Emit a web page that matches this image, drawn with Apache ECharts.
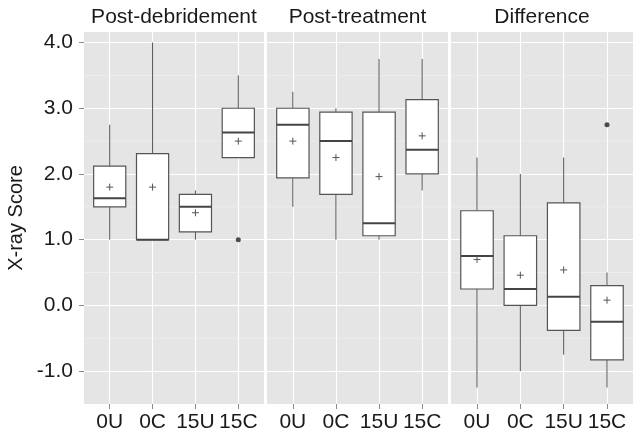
<!DOCTYPE html>
<html>
<head>
<meta charset="utf-8">
<script src="https://cdn.jsdelivr.net/npm/echarts@6/dist/echarts.min.js"></script>
<style>
html,body{margin:0;padding:0;background:#fff;}
#chart{width:642px;height:441px;}
</style>
</head>
<body>
<div id="chart"></div>
<script>
// ---- data ----
const categories = ['0U', '0C', '15U', '15C'];
const panelTitles = ['Post-debridement', 'Post-treatment', 'Difference'];
const yTickValues = [-1, 0, 1, 2, 3, 4];
const yMinorValues = [-0.5, 0.5, 1.5, 2.5, 3.5];
// box stats per category: [min, Q1, median, Q3, max]
const postDebridementBoxes = [
  [1.0, 1.5, 1.63, 2.12, 2.75],
  [1.0, 1.0, 1.0, 2.31, 4.0],
  [1.0, 1.12, 1.5, 1.69, 1.75],
  [2.25, 2.25, 2.63, 3.0, 3.5]
];
const postTreatmentBoxes = [
  [1.5, 1.94, 2.75, 3.0, 3.25],
  [1.0, 1.69, 2.5, 2.94, 3.0],
  [1.0, 1.06, 1.25, 2.94, 3.75],
  [1.75, 2.0, 2.37, 3.13, 3.75]
];
const differenceBoxes = [
  [-1.25, 0.25, 0.75, 1.44, 2.25],
  [-1.0, 0.0, 0.25, 1.06, 2.0],
  [-0.75, -0.38, 0.13, 1.56, 2.25],
  [-1.25, -0.83, -0.25, 0.3, 0.5]
];
const postDebridementMeans = [1.8, 1.8, 1.41, 2.5];
const postTreatmentMeans = [2.5, 2.25, 1.96, 2.58];
const differenceMeans = [0.7, 0.46, 0.54, 0.08];
// outliers: [category label, value]
const postDebridementOutliers = [['15C', 1.0]];
const postTreatmentOutliers = [];
const differenceOutliers = [['15C', 2.75]];

const panelBoxes = [postDebridementBoxes, postTreatmentBoxes, differenceBoxes];
const panelMeans = [postDebridementMeans, postTreatmentMeans, differenceMeans];
const panelOutliers = [postDebridementOutliers, postTreatmentOutliers, differenceOutliers];

// ---- layout ----
const FONT = 'Liberation Sans, Arial, Helvetica, sans-serif';
const gridRects = [
  {left: 84, width: 180},
  {left: 267, width: 181},
  {left: 451, width: 182}
];
const gridTop = 32, gridBottom = 37;
const xPositions = categories.map((c, i) => i + 1);

const grids = [], xAxes = [], yAxes = [], series = [], graphics = [];
gridRects.forEach((g, p) => {
  grids.push({left: g.left, width: g.width, top: gridTop, bottom: gridBottom,
    show: true, backgroundColor: '#e5e5e5', borderWidth: 0, containLabel: false});
  xAxes.push({
    gridIndex: p, type: 'value', min: 0.4, max: 4.6, position: 'bottom',
    axisLine: {show: false, onZero: false},
    axisTick: {show: true, customValues: xPositions, length: 5, lineStyle: {color: '#8a8a8a', width: 1}},
    axisLabel: {customValues: xPositions, margin: 8, fontSize: 21, color: '#1a1a1a', fontFamily: FONT,
      formatter: v => categories[Math.round(v) - 1] || ''},
    splitLine: {show: true, lineStyle: {color: '#ffffff', width: 1.2}}
  });
  yAxes.push({
    gridIndex: p, type: 'value', min: -1.5, max: 4.16, interval: 0.5, position: 'left',
    name: p === 0 ? 'X-ray Score' : '',
    nameLocation: 'middle', nameGap: 58, nameRotate: 90,
    nameTextStyle: {fontSize: 20, color: '#1a1a1a', fontFamily: FONT},
    axisLine: {show: false, onZero: false},
    axisTick: {show: p === 0, customValues: yTickValues, length: 5, lineStyle: {color: '#8a8a8a', width: 1}},
    axisLabel: {show: p === 0, customValues: yTickValues, margin: 11, fontSize: 21, color: '#1a1a1a', fontFamily: FONT,
      formatter: v => v.toFixed(1)},
    splitLine: {show: true, lineStyle: {color: '#ffffff', width: 1.2}}
  });
  // minor horizontal grid lines
  series.push({
    type: 'custom', xAxisIndex: p, yAxisIndex: p, z: 1, silent: true, animation: false,
    encode: {y: 0},
    data: yMinorValues.map(v => [v]),
    renderItem: function (params, api) {
      const cs = params.coordSys;
      const y = api.coord([1, api.value(0)])[1];
      return {type: 'line', shape: {x1: cs.x, y1: y, x2: cs.x + cs.width, y2: y},
        style: {stroke: '#f0f0f0', lineWidth: 0.8}};
    }
  });
  // boxes
  const boxData = categories.map((c, i) => [i + 1].concat(panelBoxes[p][i], [panelMeans[p][i]]));
  series.push({
    type: 'custom', xAxisIndex: p, yAxisIndex: p, z: 3, animation: false,
    encode: {x: 0, y: [1, 5]},
    data: boxData,
    renderItem: function (params, api) {
      const x = api.value(0);
      const mn = api.coord([x, api.value(1)]);
      const q1 = api.coord([x, api.value(2)]);
      const md = api.coord([x, api.value(3)]);
      const q3 = api.coord([x, api.value(4)]);
      const mx = api.coord([x, api.value(5)]);
      const me = api.coord([x, api.value(6)]);
      const hw = api.size([0.75, 0])[0] / 2;
      const stroke = '#555555';
      const cx = mn[0];
      const ps = 3.5;
      return {
        type: 'group',
        children: [
          {type: 'line', shape: {x1: cx, y1: q3[1], x2: cx, y2: mx[1]}, style: {stroke: stroke, lineWidth: 1}},
          {type: 'line', shape: {x1: cx, y1: q1[1], x2: cx, y2: mn[1]}, style: {stroke: stroke, lineWidth: 1}},
          {type: 'rect', shape: {x: cx - hw, y: q3[1], width: hw * 2, height: q1[1] - q3[1]},
            style: {fill: '#ffffff', stroke: stroke, lineWidth: 1.2}},
          {type: 'line', shape: {x1: cx - hw, y1: md[1], x2: cx + hw, y2: md[1]}, style: {stroke: '#444444', lineWidth: 2}},
          {type: 'line', shape: {x1: cx - ps, y1: me[1], x2: cx + ps, y2: me[1]}, style: {stroke: '#555', lineWidth: 1}},
          {type: 'line', shape: {x1: cx, y1: me[1] - ps, x2: cx, y2: me[1] + ps}, style: {stroke: '#555', lineWidth: 1}}
        ]
      };
    }
  });
  // outliers
  series.push({
    type: 'scatter', xAxisIndex: p, yAxisIndex: p, z: 4, animation: false,
    symbol: 'circle', symbolSize: 5,
    itemStyle: {color: '#222'},
    data: panelOutliers[p].map(o => [categories.indexOf(o[0]) + 1, o[1]])
  });
  graphics.push({
    type: 'text', x: g.left + g.width / 2, y: 17,
    style: {text: panelTitles[p], textAlign: 'center', textVerticalAlign: 'middle',
      font: '21px ' + FONT, fill: '#1a1a1a'}
  });
});

const chart = echarts.init(document.getElementById('chart'), null, {renderer: 'canvas'});
chart.setOption({
  animation: false,
  backgroundColor: '#ffffff',
  grid: grids,
  xAxis: xAxes,
  yAxis: yAxes,
  series: series,
  graphic: graphics
});
</script>
</body>
</html>
